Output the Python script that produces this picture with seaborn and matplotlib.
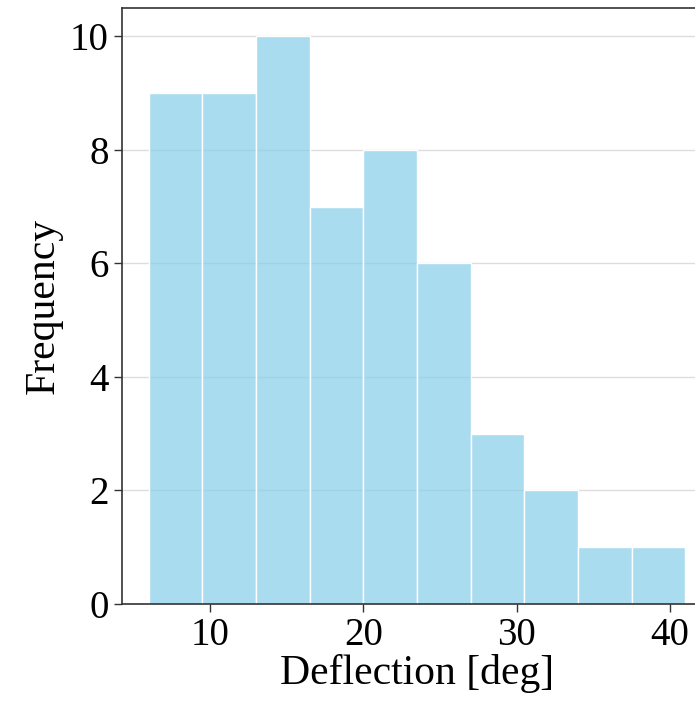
import numpy as np
import matplotlib
matplotlib.use('Agg')
import matplotlib.pyplot as plt
import seaborn as sns

# Histogram of deflection angles (counts)
bin_edges = [6.0, 9.5, 13.0, 16.5, 20.0, 23.5, 27.0, 30.5, 34.0, 37.5, 41.0]
counts = [9, 9, 10, 7, 8, 6, 3, 2, 1, 1]
x_ticks = [10, 20, 30, 40]
y_ticks = [0, 2, 4, 6, 8, 10]

sns.set_style('ticks')
plt.rcParams['font.family'] = ['Liberation Serif', 'DejaVu Serif']
plt.rcParams['text.color'] = 'black'
plt.rcParams['axes.labelcolor'] = 'black'
plt.rcParams['xtick.labelcolor'] = 'black'
plt.rcParams['ytick.labelcolor'] = 'black'

centers = [(a + b) / 2 for a, b in zip(bin_edges[:-1], bin_edges[1:])]

fig = plt.figure(figsize=(6.95, 7.03), dpi=100)
ax = fig.add_axes([0.1755, 0.1408, 0.849, 0.8478])

sns.histplot(x=centers, weights=counts, bins=bin_edges, color='skyblue',
             alpha=0.7, edgecolor='white', linewidth=1, ax=ax)

ax.set_axisbelow(True)
ax.yaxis.grid(True, color='#dddddd', linewidth=1)
ax.set_xticks(x_ticks)
ax.set_yticks(y_ticks)
ax.tick_params(labelsize=28, length=6, width=1, color='#333333')
ax.set_xlabel('Deflection [deg]', fontsize=30, labelpad=0)
ax.set_ylabel('Frequency', fontsize=30, labelpad=5)
for s in ax.spines.values():
    s.set_color('#333333')
    s.set_linewidth(1.2)

fig.savefig('out.png', dpi=100)
